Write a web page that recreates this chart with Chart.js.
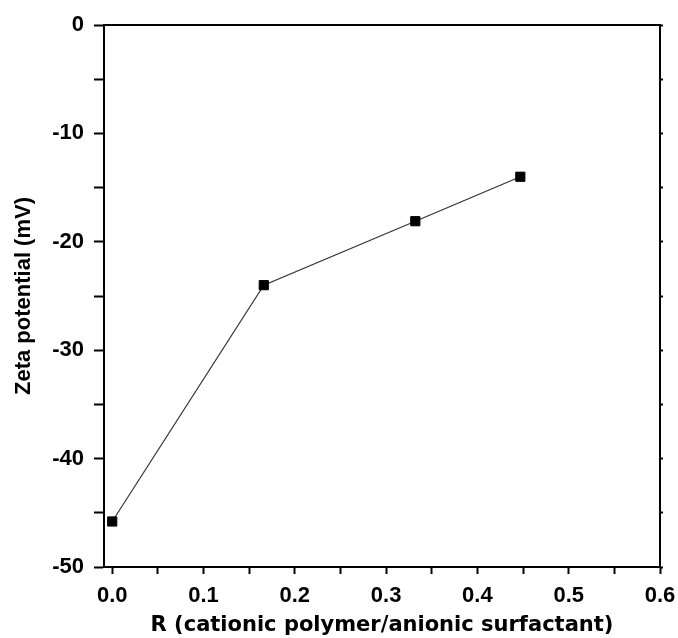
<!DOCTYPE html>
<html>
<head>
<meta charset="utf-8">
<script src="https://cdn.jsdelivr.net/npm/chart.js@4.4.0/dist/chart.umd.min.js"></script>
<style>
  html, body { margin: 0; padding: 0; background: #fff; }
  #wrap { width: 678px; height: 638px; }
</style>
</head>
<body>
<div id="wrap"><canvas id="zetaChart" width="678" height="638"></canvas></div>
<script>
// data
const rValues = [0, 0.166, 0.332, 0.447];
const zetaValues = [-45.8, -24.0, -18.1, -14.0];
const xTicks = [0, 0.05, 0.1, 0.15, 0.2, 0.25, 0.3, 0.35, 0.4, 0.45, 0.5, 0.55, 0.6];
const yTicks = [-50, -45, -40, -35, -30, -25, -20, -15, -10, -5, 0];
const xTitle = 'R (cationic polymer/anionic surfactant)';
const yTitle = 'Zeta potential (mV)';

const points = rValues.map((r, i) => ({ x: r, y: zetaValues[i] }));
const fontFam = '"Liberation Sans", Arial, sans-serif';

function setTicks(list) {
  return function (scale) {
    scale.ticks = list.map(v => ({ value: v }));
  };
}

const ctx = document.getElementById('zetaChart').getContext('2d');
const zetaChart = new Chart(ctx, {
  type: 'scatter',
  data: {
    datasets: [{
      data: points,
      showLine: true,
      borderColor: '#333',
      borderWidth: 1.2,
      pointStyle: 'rect',
      pointRadius: 6.5,
      pointBorderWidth: 1,
      pointBackgroundColor: '#000',
      pointBorderColor: '#000'
    }]
  },
  options: {
    responsive: false,
    animation: false,
    layout: { padding: 0, autoPadding: false },
    plugins: {
      legend: { display: false },
      tooltip: { enabled: false }
    },
    scales: {
      x: {
        type: 'linear',
        position: 'bottom',
        min: -0.009,
        max: 0.6,
        afterBuildTicks: setTicks(xTicks),
        afterFit: s => { s.height = 71; s.paddingLeft = 0; s.paddingRight = 0; },
        border: { display: true, color: '#000', width: 2 },
        grid: { drawOnChartArea: false, color: '#000', tickLength: 7, tickWidth: 2 },
        ticks: {
          autoSkip: false,
          maxRotation: 0,
          padding: 9,
          color: '#000',
          font: { family: fontFam, size: 22, weight: 'bold' },
          callback: v => (Math.round(v * 100) % 10 === 0 ? v.toFixed(1) : '')
        },
        title: {
          display: true,
          text: xTitle,
          color: '#000',
          font: { family: '"DejaVu Sans", sans-serif', size: 21, weight: 'bold' },
          padding: { top: 0, bottom: 0 }
        }
      },
      y: {
        type: 'linear',
        position: 'left',
        min: -50,
        max: 0,
        afterBuildTicks: setTicks(yTicks),
        afterFit: s => { s.width = 104; s.paddingTop = 0; s.paddingBottom = 0; },
        border: { display: true, color: '#000', width: 2 },
        grid: { drawOnChartArea: false, color: '#000', tickLength: 10, tickWidth: 2 },
        ticks: {
          autoSkip: false,
          padding: 10,
          color: '#000',
          font: { family: fontFam, size: 22, weight: 'bold' },
          callback: v => (v % 10 === 0 ? String(v) : '')
        },
        title: {
          display: true,
          text: yTitle,
          color: '#000',
          font: { family: fontFam, size: 22, weight: 'bold' },
          padding: { top: 11, bottom: 0 }
        }
      },
      xTop: {
        type: 'linear',
        position: 'top',
        min: -0.009,
        max: 0.6,
        afterFit: s => { s.height = 25; },
        border: { display: true, color: '#000', width: 2 },
        grid: { display: false },
        ticks: { display: false }
      },
      yRight: {
        type: 'linear',
        position: 'right',
        min: -50,
        max: 0,
        afterBuildTicks: setTicks(yTicks),
        afterFit: s => { s.width = 18; },
        border: { display: true, color: '#000', width: 2 },
        grid: { drawOnChartArea: false, color: '#000', tickLength: 3, tickWidth: 2 },
        ticks: { display: true, color: 'rgba(0,0,0,0)', callback: () => '' }
      }
    }
  }
});
</script>
</body>
</html>
